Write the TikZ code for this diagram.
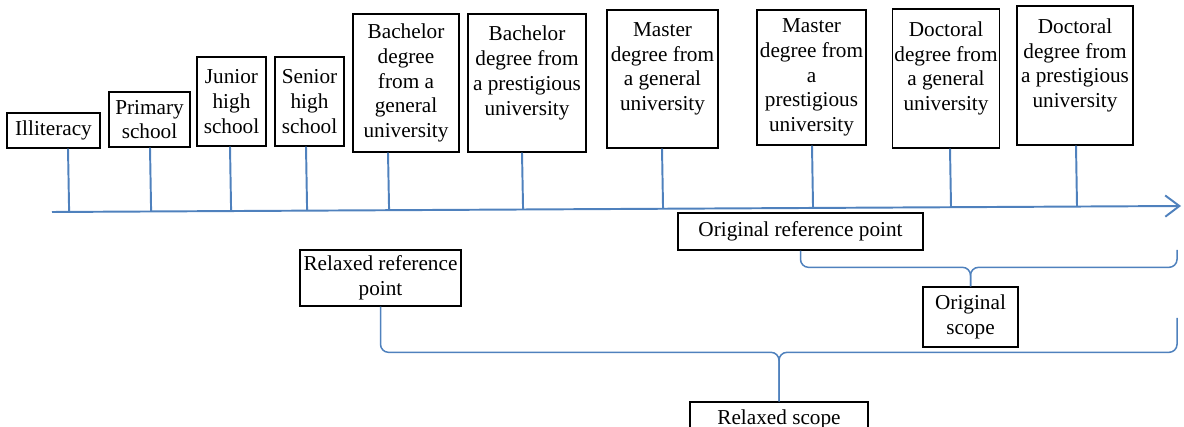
\documentclass[tikz,border=0pt]{standalone}
\usepackage{fontspec}
\setmainfont{Liberation Serif}
\usetikzlibrary{arrows.meta,calc}
\definecolor{lineblue}{RGB}{79,129,189}
\newlength{\pxu}
\setlength{\pxu}{0.565pt}

\begin{document}
\begin{tikzpicture}[x=0.565pt, y=-0.565pt]
	\tikzstyle{every node}=[inner sep=1pt, align=center, font=\fontsize{12}{14}\selectfont]
	\tikzstyle{box}=[draw=black, line width=0.75pt]
	\tikzstyle{stem}=[draw=lineblue, line width=1.1pt]
	\tikzstyle{brace}=[draw=lineblue, line width=0.85pt, rounded corners=8\pxu]
	\useasboundingbox (0,0) rectangle (1184,427);
	% levels of education
	\node[box, minimum width=93\pxu, minimum height=35\pxu] (ill) at (53.5,130.5) {Illiteracy};
	\node[box, minimum width=81\pxu, minimum height=55\pxu] (pri) at (149.5,119.5) {Primary\\school};
	\node[box, minimum width=69\pxu, minimum height=89\pxu] (jun) at (231.5,101.5) {Junior\\high\\school};
	\node[box, minimum width=69\pxu, minimum height=89\pxu] (sen) at (309.5,101.5) {Senior\\high\\school};
	\node[box, minimum width=106\pxu, minimum height=138\pxu] (bg) at (406,83) {Bachelor\\degree\\from a\\general\\university};
	\node[box, minimum width=118\pxu, minimum height=138\pxu] (bp) at (527,83) {Bachelor\\degree from\\a prestigious\\university\\ \mbox{}};
	\node[box, minimum width=111\pxu, minimum height=138\pxu] (mg) at (662.5,79) {Master\\degree from\\a general\\university\\ \mbox{}};
	\node[box, minimum width=109\pxu, minimum height=135\pxu] (mp) at (811.5,77.5) {Master\\degree from\\a\\prestigious\\university};
	\node[box, minimum width=106\pxu, minimum height=139\pxu] (dg) at (946,78.5) {Doctoral\\degree from\\a general\\university\\ \mbox{}};
	\node[box, minimum width=116\pxu, minimum height=139\pxu] (dp) at (1075,75.5) {Doctoral\\degree from\\a prestigious\\university\\ \mbox{}};
	% axis
	\coordinate (axl) at (52,212);
	\coordinate (axr) at (1181,206);
	\draw[stem, -{Straight Barb[length=8pt, width=12pt]}] (axl) -- (axr);
	\foreach \n/\x in {ill/68, pri/150, jun/230, sen/306, bg/388, bp/522, mg/662, mp/812, dg/950, dp/1076}
		\draw[stem] (\n.south -| \x,0) -- ($(axl)!(\x,0)!(axr)$);
	% reference points and scopes
	\node[box, minimum width=245\pxu, minimum height=37\pxu] (orp) at (800.5,231.5) {Original reference point};
	\node[box, minimum width=161\pxu, minimum height=56\pxu] (rrp) at (380.5,278) {Relaxed reference\\point};
	\node[box, minimum width=95\pxu, minimum height=60\pxu] (os) at (970.5,317) {Original\\scope};
	\node[box, minimum width=178\pxu, minimum height=34\pxu] (rs) at (779,419) {Relaxed scope};
	\coordinate (ore) at (1177,250);
	\coordinate (rre) at (1177,318);
	\draw[brace] (orp.south) |- ($(os.north)+(0,-19)$) -- (os.north);
	\draw[brace] (ore) |- ($(os.north)+(0,-19)$) -- (os.north);
	\draw[brace] (rrp.south) |- ($(rs.north)+(0,-49)$) -- (rs.north);
	\draw[brace] (rre) |- ($(rs.north)+(0,-49)$) -- (rs.north);
\end{tikzpicture}
\end{document}
